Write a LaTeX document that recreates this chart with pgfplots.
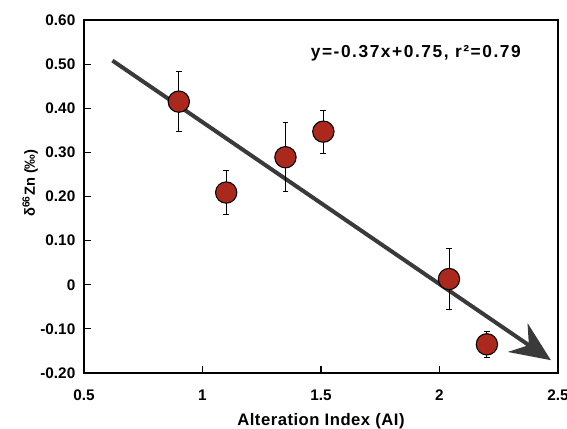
\documentclass[border=0pt]{standalone}
\usepackage{fontspec}
\setmainfont{Liberation Sans}
\usepackage{pgfplots}
\pgfplotsset{compat=1.18}
\usetikzlibrary{arrows.meta}
\definecolor{ptred}{RGB}{170,40,28}
\definecolor{trend}{RGB}{58,58,58}
\begin{document}
\begin{tikzpicture}
\begin{axis}[
    scale only axis,
    width=355.5pt, height=264.75pt,
    xmin=0.5, xmax=2.5, ymin=-0.2, ymax=0.6,
    xtick={0.5,1,1.5,2,2.5},
    xticklabels={0.5,1,1.5,2,2.5},
    ytick={-0.2,-0.1,0,0.1,0.2,0.3,0.4,0.5,0.6},
    yticklabels={-0.20,-0.10,0,0.10,0.20,0.30,0.40,0.50,0.60},
    tick pos=left, tick align=inside,
    major tick length=5pt,
    tick style={black, line width=0.8pt},
    axis line style={line width=2pt},
    ticklabel style={font=\fontsize{11.5}{14}\selectfont\bfseries},
    yticklabel style={xshift=-3pt},
    xticklabel style={yshift=-9pt},
    xlabel={Alteration Index (AI)},
    ylabel={δ\textsuperscript{66}Zn (‰)},
    xlabel style={font=\fontsize{12.5}{14}\selectfont\bfseries\addfontfeature{LetterSpace=3}, yshift=-3pt},
    ylabel style={font=\fontsize{11}{13}\selectfont\bfseries, yshift=-5pt, xshift=10pt},
    clip=false,
]
% trend arrow
\addplot[trend, line width=3pt, -{Stealth[length=30pt, width=26pt, inset=10pt]}]
    coordinates {(0.62,0.508) (2.47,-0.171)};
% data with error bars
\addplot[only marks, mark=*, mark size=8pt,
    mark options={fill=ptred, draw=black, line width=0.8pt},
    error bars/.cd, y dir=both, y explicit,
    error bar style={black, line width=0.7pt},
    error mark options={rotate=90, mark size=2.2pt, line width=0.7pt}]
    coordinates {
    (0.90,0.415) +- (0,0.068)
    (1.10,0.209) +- (0,0.049)
    (1.35,0.289) +- (0,0.078)
    (1.51,0.347) +- (0,0.049)
    (2.04,0.013) +- (0,0.069)
    (2.20,-0.135) +- (0,0.029)
    };
\node[font=\fontsize{13}{15}\selectfont\bfseries\addfontfeature{LetterSpace=9}] at (axis cs:1.9,0.524)
    {y=-0.37x+0.75, r²=0.79};
\path (rel axis cs:0,0) ++(-63pt,-41.25pt) coordinate (bbsw);
\path (rel axis cs:1,1) ++(6.75pt,15pt) coordinate (bbne);
\end{axis}
% right frame edge, drawn after the axis
\draw[black, line width=2.2pt, line cap=rect]
    (current axis.south east) -- (current axis.north east);
\pgfresetboundingbox
\path[use as bounding box] (bbsw) rectangle (bbne);
\end{tikzpicture}
\end{document}
